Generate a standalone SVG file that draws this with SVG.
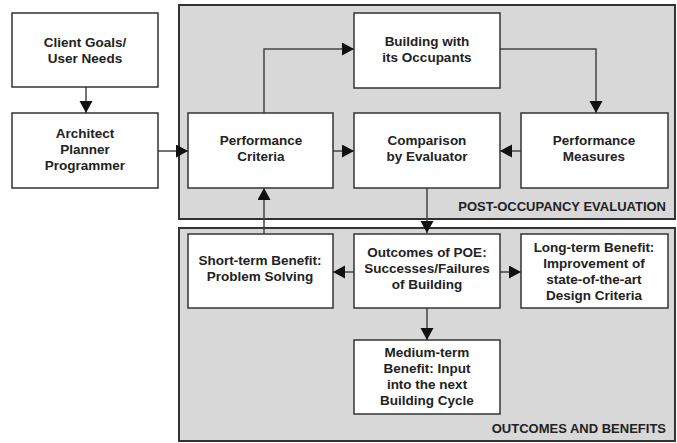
<svg xmlns="http://www.w3.org/2000/svg" width="677" height="443" viewBox="0 0 677 443">
<style>
.panel{fill:#d8d8d8;stroke:#333;stroke-width:2}
.box{fill:#fff;stroke:#333;stroke-width:1.5}
text{font-family:"Liberation Sans",Arial,sans-serif;font-weight:bold;font-size:13.5px;fill:#222;text-anchor:middle}
.lbl{text-anchor:end;font-size:13px}
.con{fill:none;stroke:#444;stroke-width:1.5;marker-end:url(#ah)}
</style>
<defs>
<marker id="ah" markerUnits="userSpaceOnUse" markerWidth="14" markerHeight="14" refX="12" refY="6.5" orient="auto">
<path d="M0,0 L12,6.5 L0,13 Z" fill="#111"/>
</marker>
</defs>
<rect width="677" height="443" fill="#fff"/>
<g id="panel-poe">
<rect class="panel" x="179" y="5" width="496" height="214"/>
<text class="lbl" x="666" y="211">POST-OCCUPANCY EVALUATION</text>
</g>
<g id="panel-outcomes">
<rect class="panel" x="179" y="228" width="496" height="213"/>
<text class="lbl" x="666" y="433">OUTCOMES AND BENEFITS</text>
</g>
<g id="connectors">
<path class="con" d="M86,87 V113"/>
<path class="con" d="M158,151 H188"/>
<path class="con" d="M264,113 V49 H354"/>
<path class="con" d="M500,49 H596 V113"/>
<path class="con" d="M521,151 H500"/>
<path class="con" d="M333,151 H354"/>
<path class="con" d="M427,188 V233"/>
<path class="con" d="M264,234 V188"/>
<path class="con" d="M354,272 H333"/>
<path class="con" d="M500,272 H521"/>
<path class="con" d="M427,308 V340"/>
</g>
<g id="client-goals">
<rect class="box" x="12" y="13" width="146" height="74"/>
<text x="85" y="47">Client Goals/</text>
<text x="85" y="63">User Needs</text>
</g>
<g id="architect">
<rect class="box" x="12" y="113" width="146" height="75"/>
<text x="85" y="138">Architect</text>
<text x="85" y="154">Planner</text>
<text x="85" y="170">Programmer</text>
</g>
<g id="performance-criteria">
<rect class="box" x="188" y="113" width="145" height="75"/>
<text x="261" y="145">Performance</text>
<text x="261" y="161">Criteria</text>
</g>
<g id="building">
<rect class="box" x="354" y="13" width="146" height="75"/>
<text x="427" y="46">Building with</text>
<text x="427" y="62">its Occupants</text>
</g>
<g id="comparison">
<rect class="box" x="354" y="113" width="146" height="75"/>
<text x="427" y="145">Comparison</text>
<text x="427" y="161">by Evaluator</text>
</g>
<g id="performance-measures">
<rect class="box" x="521" y="113" width="147" height="75"/>
<text x="594" y="145">Performance</text>
<text x="594" y="161">Measures</text>
</g>
<g id="short-term">
<rect class="box" x="188" y="234" width="145" height="74"/>
<text x="260" y="265">Short-term Benefit:</text>
<text x="260" y="281">Problem Solving</text>
</g>
<g id="outcomes">
<rect class="box" x="354" y="234" width="146" height="74"/>
<text x="427" y="257">Outcomes of POE:</text>
<text x="427" y="273">Successes/Failures</text>
<text x="427" y="289">of Building</text>
</g>
<g id="long-term">
<rect class="box" x="521" y="234" width="147" height="74"/>
<text x="594" y="252">Long-term Benefit:</text>
<text x="594" y="268">Improvement of</text>
<text x="594" y="284">state-of-the-art</text>
<text x="594" y="300">Design Criteria</text>
</g>
<g id="medium-term">
<rect class="box" x="354" y="340" width="146" height="74"/>
<text x="427" y="357">Medium-term</text>
<text x="427" y="373">Benefit: Input</text>
<text x="427" y="389">into the next</text>
<text x="427" y="405">Building Cycle</text>
</g>
</svg>
